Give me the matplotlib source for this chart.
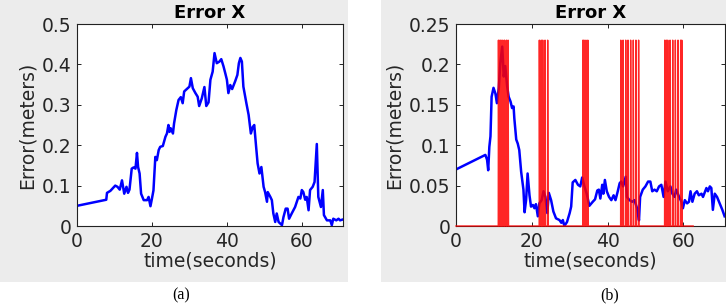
import matplotlib
matplotlib.use("Agg")
import matplotlib.pyplot as plt
from matplotlib.patches import Rectangle
from matplotlib.ticker import FuncFormatter

# Panel (a): blue error trace
time_a = [0, 7.8, 8, 8.9, 10.2, 10.8, 11.4, 12, 12.6, 13.2, 13.6, 14, 14.6, 15.1, 15.6, 16, 16.3,
          16.7, 17.1, 17.8, 18.7, 19.1, 19.6, 20, 20.4, 20.9, 21.3, 21.8, 22.2, 22.9, 23.6, 24, 24.4,
          24.7, 25, 25.6, 25.9, 26.5, 27.1, 27.7, 28.2, 28.6, 29.3, 30, 30.4, 30.9, 31.6, 32.2, 32.6,
          33.3, 34, 34.5, 35.1, 35.6, 36.2, 36.7, 37.3, 38, 38.5, 39.1, 39.6, 40, 40.4, 40.9, 41.4,
          42.2, 42.8, 43.2, 43.6, 44, 44.4, 45.2, 45.8, 46.4, 46.9, 47.3, 47.8, 48.2, 48.7, 49.2,
          49.8, 50.2, 50.7, 50.9, 51.6, 52, 52.4, 52.9, 53.3, 53.8, 54.7, 55.1, 55.7, 56.2, 56.6,
          57.3, 58.2, 59.1, 59.6, 60, 60.4, 60.9, 61.3, 61.8, 62.2, 62.9, 63.4, 64, 64.4, 65.1, 65.6,
          65.9, 66.7, 67.6, 68, 68.4, 69.2, 69.8, 70.2, 70.9]
error_a = [0.05, 0.065, 0.082, 0.087, 0.10, 0.097, 0.09, 0.113, 0.08, 0.097, 0.082, 0.09, 0.142,
           0.145, 0.142, 0.181, 0.146, 0.13, 0.08, 0.064, 0.064, 0.072, 0.049, 0.068, 0.088, 0.171,
           0.163, 0.188, 0.196, 0.198, 0.221, 0.229, 0.25, 0.233, 0.242, 0.229, 0.254, 0.287, 0.312,
           0.319, 0.304, 0.333, 0.339, 0.345, 0.366, 0.341, 0.329, 0.32, 0.297, 0.316, 0.344, 0.297,
           0.306, 0.362, 0.382, 0.428, 0.403, 0.407, 0.413, 0.395, 0.377, 0.362, 0.329, 0.349, 0.339,
           0.358, 0.374, 0.403, 0.416, 0.407, 0.345, 0.304, 0.275, 0.229, 0.245, 0.25, 0.196, 0.155,
           0.13, 0.146, 0.097, 0.084, 0.06, 0.084, 0.072, 0.064, 0.031, 0.01, 0.031, 0.01, 0.002,
           0.022, 0.043, 0.043, 0.018, 0.031, 0.047, 0.072, 0.068, 0.089, 0.084, 0.065, 0.072, 0.039,
           0.089, 0.097, 0.109, 0.203, 0.072, 0.047, 0.089, 0.027, 0.014, 0.014, 0.002, 0.018, 0.014,
           0.018, 0.014, 0.016]

# Panel (b): blue error trace
time_b = [0, 7.75, 8.2, 8.5, 8.8, 9.1, 9.4, 9.9, 10.4, 10.8, 11.3, 11.7, 12.2, 12.6, 13, 13.5, 13.9,
          14.4, 14.8, 15.2, 15.4, 15.9, 16.3, 16.7, 17.2, 17.8, 18.1, 18.5, 18.9, 19.4, 19.8, 20.3,
          20.7, 21.1, 21.6, 22, 22.6, 23.1, 23.6, 24.1, 24.5, 25.1, 25.7, 26.4, 27.3, 27.8, 28.2,
          28.6, 29.3, 30, 30.4, 30.8, 31.5, 32.2, 32.8, 33.3, 33.9, 34.5, 35.2, 36.1, 36.7, 37.3,
          37.7, 38.1, 38.6, 38.9, 39.3, 39.8, 40.4, 41, 41.6, 42.1, 42.7, 43.2, 43.6, 44.1, 44.8,
          45.1, 45.8, 46.5, 47.1, 47.8, 48.3, 48.6, 49.3, 50, 50.7, 51.3, 51.8, 52.4, 53, 53.6, 54.2,
          54.8, 55.3, 55.9, 56.6, 57.1, 57.7, 58.1, 58.9, 59.5, 59.9, 60.4, 61, 61.5, 61.9, 62.4, 63,
          63.6, 64.1, 64.8, 65.2, 66.1, 66.5, 67, 67.4, 67.8, 68.3, 68.9, 69.6, 70.3, 70.9]
error_b = [0.070, 0.088, 0.082, 0.069, 0.098, 0.111, 0.160, 0.171, 0.164, 0.152, 0.171, 0.202,
           0.222, 0.185, 0.198, 0.173, 0.160, 0.154, 0.146, 0.148, 0.133, 0.107, 0.102, 0.094, 0.067,
           0.045, 0.017, 0.032, 0.065, 0.038, 0.024, 0.026, 0.022, 0.027, 0.012, 0.028, 0.032, 0.043,
           0.036, 0.016, 0.041, 0.032, 0.018, 0.0095, 0.0074, 0.004, 0.0074, 0.0, 0.005, 0.016, 0.024,
           0.054, 0.057, 0.051, 0.049, 0.060, 0.049, 0.040, 0.025, 0.030, 0.033, 0.044, 0.045, 0.034,
           0.051, 0.040, 0.057, 0.043, 0.036, 0.032, 0.038, 0.032, 0.043, 0.053, 0.055, 0.049, 0.061,
           0.036, 0.032, 0.030, 0.032, 0.022, 0.007, 0.036, 0.045, 0.049, 0.055, 0.055, 0.043, 0.045,
           0.043, 0.049, 0.051, 0.036, 0.055, 0.043, 0.049, 0.040, 0.036, 0.045, 0.036, 0.030, 0.022,
           0.032, 0.028, 0.030, 0.043, 0.030, 0.040, 0.043, 0.038, 0.040, 0.036, 0.047, 0.043, 0.049,
           0.047, 0.020, 0.040, 0.036, 0.028, 0.020, 0.012]

# Panel (b): red detection pulses (spike times and their height)
pulse_times = [11.2, 11.6, 11.9, 12.35, 12.8, 13.3, 13.75,
               22.0, 22.5, 22.9, 23.5, 24.2,
               33.5, 33.8, 34.3, 34.8,
               43.5, 44.1, 44.8, 45.4, 46.1, 46.8, 47.5, 48.2,
               55.1, 55.5, 55.9, 56.5, 57.2, 57.9, 58.6, 59.3, 59.6]
pulse_height = 0.23
pulse_end = 62.6

# build red step trace from the spike times
red_t = [0]
red_v = [0]
for pt in pulse_times:
    red_t += [pt - 0.05, pt, pt + 0.12]
    red_v += [0, pulse_height, 0]
red_t.append(pulse_end)
red_v.append(0)

fig = plt.figure(figsize=(7.26, 3.05), dpi=100)
fig.patch.set_facecolor("white")

# grey figure backgrounds behind each panel
for x0, w in [(0.0, 0.479), (0.5248, 0.4752)]:
    fig.patches.append(Rectangle((x0, 0.0754), w, 0.9246, transform=fig.transFigure,
                                 facecolor="#ececec", edgecolor="none", zorder=-10))

fmt = FuncFormatter(lambda v, p: f"{v:g}")


def style_axes(ax, ymax, yticks):
    ax.set_facecolor("white")
    ax.set_xlim(0, 71)
    ax.set_ylim(0, ymax)
    ax.set_xticks([0, 20, 40, 60])
    ax.set_yticks(yticks)
    ax.yaxis.set_major_formatter(fmt)
    ax.tick_params(direction="in", length=3, width=0.6, top=True, right=True,
                   labelsize=13.5, labelcolor="#262626", pad=4)
    for s in ax.spines.values():
        s.set_linewidth(0.8)
        s.set_color("#222222")
    ax.set_title("Error X", fontsize=13, fontweight="bold", pad=4)
    ax.set_xlabel("time(seconds)", fontsize=13.5, color="#262626", labelpad=1)
    ax.set_ylabel("Error(meters)", fontsize=13.5, color="#262626", labelpad=4)


ax1 = fig.add_axes([0.1061, 0.259, 0.3664, 0.6623])
ax1.plot(time_a, error_a, color="#0000ff", lw=1.8)
style_axes(ax1, 0.5, [0, 0.1, 0.2, 0.3, 0.4, 0.5])

ax2 = fig.add_axes([0.6281, 0.259, 0.3705, 0.6623])
ax2.plot(time_b, error_b, color="#0000ff", lw=1.8)
ax2.plot(red_t, red_v, color="#ff0000", lw=1.0, alpha=0.85, clip_on=False, zorder=3)
style_axes(ax2, 0.25, [0, 0.05, 0.1, 0.15, 0.2, 0.25])

fig.text(0.25, 0.033, "(a)", ha="center", va="center", fontsize=11.5, family="Liberation Serif")
fig.text(0.84, 0.033, "(b)", ha="center", va="center", fontsize=11.5, family="Liberation Serif")

fig.savefig("out.png", dpi=100)
